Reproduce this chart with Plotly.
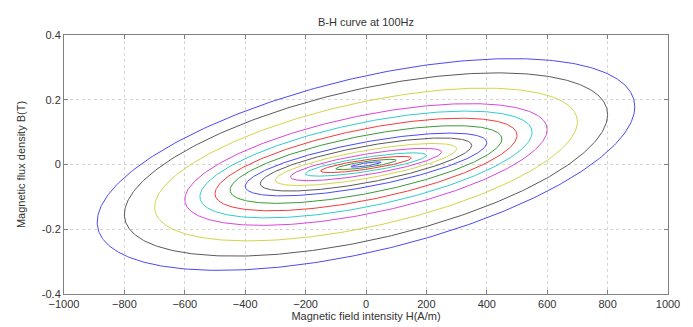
import numpy as np
import plotly.graph_objects as go

# Per-loop parameters (innermost -> outermost)
H_peak = [50, 100, 150, 200, 250, 300, 350, 400, 450, 500, 550, 600, 700, 800, 890]          # A/m
B_peak = [0.008, 0.016, 0.025, 0.036, 0.050, 0.065, 0.082, 0.097, 0.120, 0.143, 0.165, 0.188, 0.236, 0.283, 0.327]  # T
phase_deg = [35, 36, 37, 38, 40, 42, 44, 46, 49, 51, 53, 55, 56, 57, 57]
loop_colors = ["#4a4af5", "#3a9a3a", "#f53a3a", "#30cccc", "#d848d8", "#d4d44a", "#5a5a5a"]

x_ticks = [-1000, -800, -600, -400, -200, 0, 200, 400, 600, 800, 1000]
y_ticks = [-0.4, -0.2, 0, 0.2, 0.4]
y_tick_text = ["-0.4", "-0.2", "0", "0.2", "0.4"]

fig = go.Figure()
t = np.linspace(0, 2 * np.pi, 400)
for i, (hm, bm, ph) in enumerate(zip(H_peak, B_peak, phase_deg)):
    H = hm * np.cos(t)
    B = bm * np.cos(t - np.radians(ph))
    fig.add_trace(go.Scatter(x=H, y=B, mode="lines",
                             line=dict(color=loop_colors[i % len(loop_colors)], width=1),
                             showlegend=False, hoverinfo="skip"))

font = dict(family="Liberation Sans, Arial, sans-serif", size=11, color="#333333")
axis_common = dict(showgrid=True, gridcolor="#d4d4d4", griddash="dot", gridwidth=1,
                   zeroline=False, showline=True, linecolor="#808080", linewidth=1,
                   mirror="ticks", ticks="inside", ticklen=4, tickcolor="#808080",
                   tickfont=font, automargin=False)

# page body has an 8px default margin, so the figure is sized to fit inside it
fig.update_layout(
    width=685, height=319,
    margin=dict(l=56, r=25, t=27, b=33),
    paper_bgcolor="white", plot_bgcolor="white",
    font=font,
    title=dict(text="B-H curve at 100Hz", x=(56 + 660) / 2 / 685, xanchor="center",
               y=1 - 14 / 319, yanchor="middle", font=dict(size=11, color="#333333",
               family="Liberation Sans, Arial, sans-serif")),
    xaxis=dict(range=[-1000, 1000], tickvals=x_ticks,
               title=dict(text="Magnetic field intensity H(A/m)", standoff=0, font=font),
               **axis_common),
    yaxis=dict(range=[-0.4, 0.4], tickvals=y_ticks, ticktext=y_tick_text,
               title=dict(text="Magnetic flux density B(T)", standoff=13, font=font),
               **axis_common),
)

fig.write_html("out.html")
